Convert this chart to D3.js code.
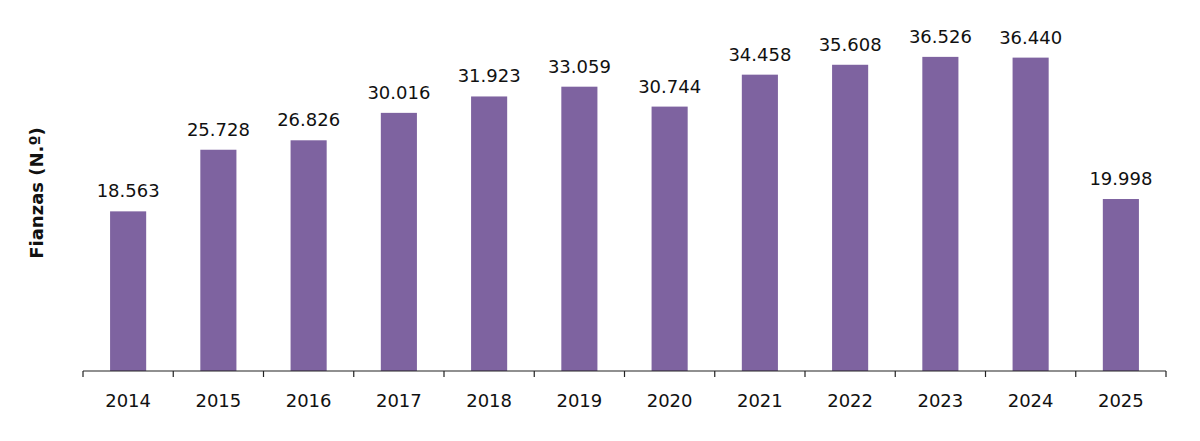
<!DOCTYPE html>
<html><head><meta charset="utf-8">
<script src="https://cdn.jsdelivr.net/npm/d3@7"></script>
<style>body{margin:0;background:#fff}svg{display:block}</style>
</head><body>
<svg id="c" width="1200" height="441"></svg>
<script>
const years = ["2014","2015","2016","2017","2018","2019","2020","2021","2022","2023","2024","2025"];
const fianzas = [18563,25728,26826,30016,31923,33059,30744,34458,35608,36526,36440,19998];
const valueLabels = ["18.563","25.728","26.826","30.016","31.923","33.059","30.744","34.458","35.608","36.526","36.440","19.998"];
const yTitle = "Fianzas (N.º)";

const svg = d3.select("#c");
const x0 = 83, x1 = 1166, yBase = 371;
const x = d3.scaleBand().domain(years).range([x0, x1]).paddingInner(0.6).paddingOuter(0.3);
const y = d3.scaleLinear().domain([0, 40000]).range([yBase, yBase - 344]);
const font = "'DejaVu Sans', sans-serif";

svg.append("g").selectAll("rect").data(years).join("rect")
  .attr("x", d => x(d)).attr("width", x.bandwidth())
  .attr("y", (d,i) => y(fianzas[i])).attr("height", (d,i) => yBase - y(fianzas[i]))
  .attr("fill", "#7e63a0");

svg.append("g").selectAll("text").data(years).join("text")
  .attr("x", d => x(d) + x.bandwidth()/2)
  .attr("y", (d,i) => y(fianzas[i]) - 14)
  .attr("text-anchor", "middle").attr("font-family", font).attr("font-size", 18).attr("fill", "#111")
  .text((d,i) => valueLabels[i]);

// axis line and ticks at category boundaries
const step = x.step();
const bounds = d3.range(years.length + 1).map(i => x0 + i * step);
const ax = svg.append("g").attr("stroke", "#222").attr("stroke-width", 1.2);
ax.append("line").attr("x1", x0).attr("x2", x1).attr("y1", yBase).attr("y2", yBase);
ax.selectAll("line.t").data(bounds).join("line").attr("class","t")
  .attr("x1", d => d).attr("x2", d => d).attr("y1", yBase).attr("y2", yBase + 6);

svg.append("g").selectAll("text").data(years).join("text")
  .attr("x", d => x(d) + x.bandwidth()/2).attr("y", 407)
  .attr("text-anchor", "middle").attr("font-family", font).attr("font-size", 18).attr("fill", "#111")
  .text(d => d);

svg.append("text").attr("transform", "translate(43,193) rotate(-90)")
  .attr("text-anchor", "middle").attr("font-family", font).attr("font-weight", "bold")
  .attr("font-size", 18).attr("fill", "#111").text(yTitle);
</script>
</body></html>
